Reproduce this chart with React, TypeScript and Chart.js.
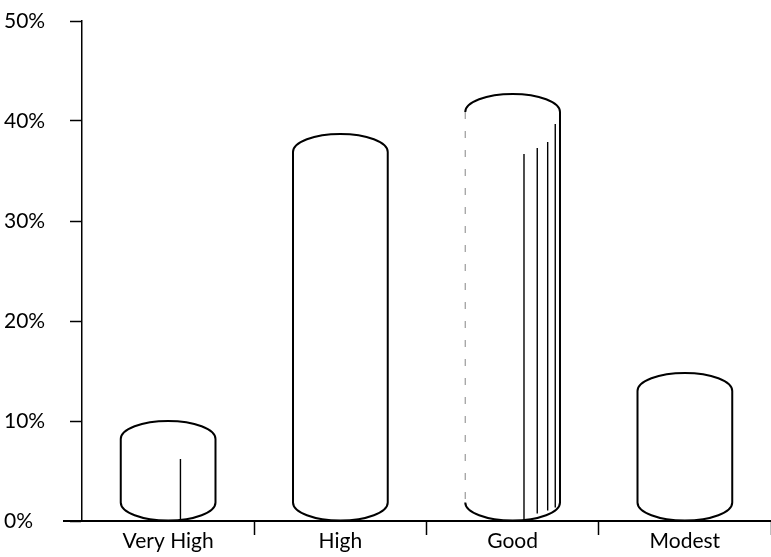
import React, { useEffect, useRef } from "react";
import { Chart, registerables } from "chart.js";

Chart.register(...registerables);

const categories = ["Very High", "High", "Good", "Modest"];
const shares = [10.0, 38.7, 42.7, 14.8];
const yTickValues = [0, 10, 20, 30, 40, 50];

const FONT = "Lato, 'Open Sans', sans-serif";

const cylinderPlugin = {
  id: "cylinders",
  afterDatasetsDraw(chart: any) {
    const ctx = chart.ctx;
    const meta = chart.getDatasetMeta(0);
    const area = chart.chartArea;
    ctx.save();
    const base0 = chart.scales.y.getPixelForValue(0);
    ctx.strokeStyle = "#000";
    ctx.lineWidth = 2;
    ctx.beginPath();
    ctx.moveTo(area.left - 19, base0);
    ctx.lineTo(area.left, base0);
    ctx.stroke();

    meta.data.forEach((el: any, i: number) => {
      const { x, y, base, width } = el.getProps(["x", "y", "base", "width"], true);
      const rx = width / 2;
      const cap = 18;
      const left = x - rx;
      const right = x + rx;
      ctx.strokeStyle = "#000";
      ctx.lineWidth = 2;
      ctx.setLineDash([]);
      ctx.beginPath();
      ctx.ellipse(x, y + cap, rx, cap, 0, Math.PI, 0);
      ctx.lineTo(right, base - cap);
      ctx.ellipse(x, base - cap, rx, cap, 0, 0, Math.PI);
      if (i !== 2) {
        ctx.lineTo(left, y + cap);
      }
      ctx.stroke();
      if (i === 2) {
        ctx.strokeStyle = "#9a9a9a";
        ctx.lineWidth = 1.2;
        ctx.setLineDash([7, 12]);
        ctx.beginPath();
        ctx.moveTo(left, y + cap);
        ctx.lineTo(left, base - cap);
        ctx.stroke();
        ctx.setLineDash([]);
        ctx.strokeStyle = "#000";
        ctx.lineWidth = 1.4;
        const fr = [0.62, 0.76, 0.87, 0.95];
        const tops = [60, 54, 48, 30];
        fr.forEach((f, k) => {
          const lx = left + f * width;
          ctx.beginPath();
          ctx.moveTo(lx, y + tops[k]);
          ctx.lineTo(lx, base - (k === 0 ? 0 : 4 + k * 3));
          ctx.stroke();
        });
      }
      if (i === 0) {
        ctx.strokeStyle = "#000";
        ctx.lineWidth = 1.4;
        const lx = left + 0.63 * width;
        ctx.beginPath();
        ctx.moveTo(lx, y + 38);
        ctx.lineTo(lx, base);
        ctx.stroke();
      }
    });
    ctx.restore();
  },
};

export default function App() {
  const ref = useRef<HTMLCanvasElement>(null);
  useEffect(() => {
    if (!ref.current) return;
    const chart = new Chart(ref.current, {
      type: "bar",
      data: {
        labels: categories,
        datasets: [
          {
            data: shares,
            backgroundColor: "rgba(0,0,0,0)",
            borderWidth: 0,
            categoryPercentage: 1,
            barPercentage: 0.55,
          },
        ],
      },
      options: {
        responsive: false,
        animation: false,
        plugins: { legend: { display: false }, tooltip: { enabled: false } },
        layout: { padding: { left: 4, right: 0, top: 21, bottom: 0 } },
        scales: {
          x: {
            grid: {
              offset: true,
              drawOnChartArea: false,
              drawTicks: true,
              tickLength: 14,
              tickColor: (c: any) =>
                c.index === 0 || c.index >= categories.length ? "rgba(0,0,0,0)" : "#000",
              tickWidth: 1.5,
            },
            border: { display: true, color: "#000", width: 2 },
            ticks: {
              color: "#000",
              font: { family: FONT, size: 21 },
              padding: -6,
            },
            afterFit: (s: any) => {
              s.height = 36;
            },
          },
          y: {
            min: 0,
            max: 50,
            afterBuildTicks: (s: any) => {
              s.ticks = yTickValues.map((v) => ({ value: v }));
            },
            grid: {
              drawOnChartArea: false,
              drawTicks: true,
              tickLength: 12,
              tickColor: "#000",
              tickWidth: 1.5,
            },
            border: { display: true, color: "#000", width: 1.5 },
            ticks: {
              color: "#000",
              crossAlign: "far",
              font: { family: FONT, size: 21 },
              callback: (v: any) => v + "%",
            },
            afterFit: (s: any) => {
              s.width = 78;
            },
          },
        },
      },
      plugins: [cylinderPlugin],
    });
    return () => chart.destroy();
  }, []);
  return (
    <div style={{ position: "fixed", left: 0, top: 0, width: 771, height: 557, background: "#fff" }}>
      <canvas ref={ref} width={771} height={557} />
    </div>
  );
}
